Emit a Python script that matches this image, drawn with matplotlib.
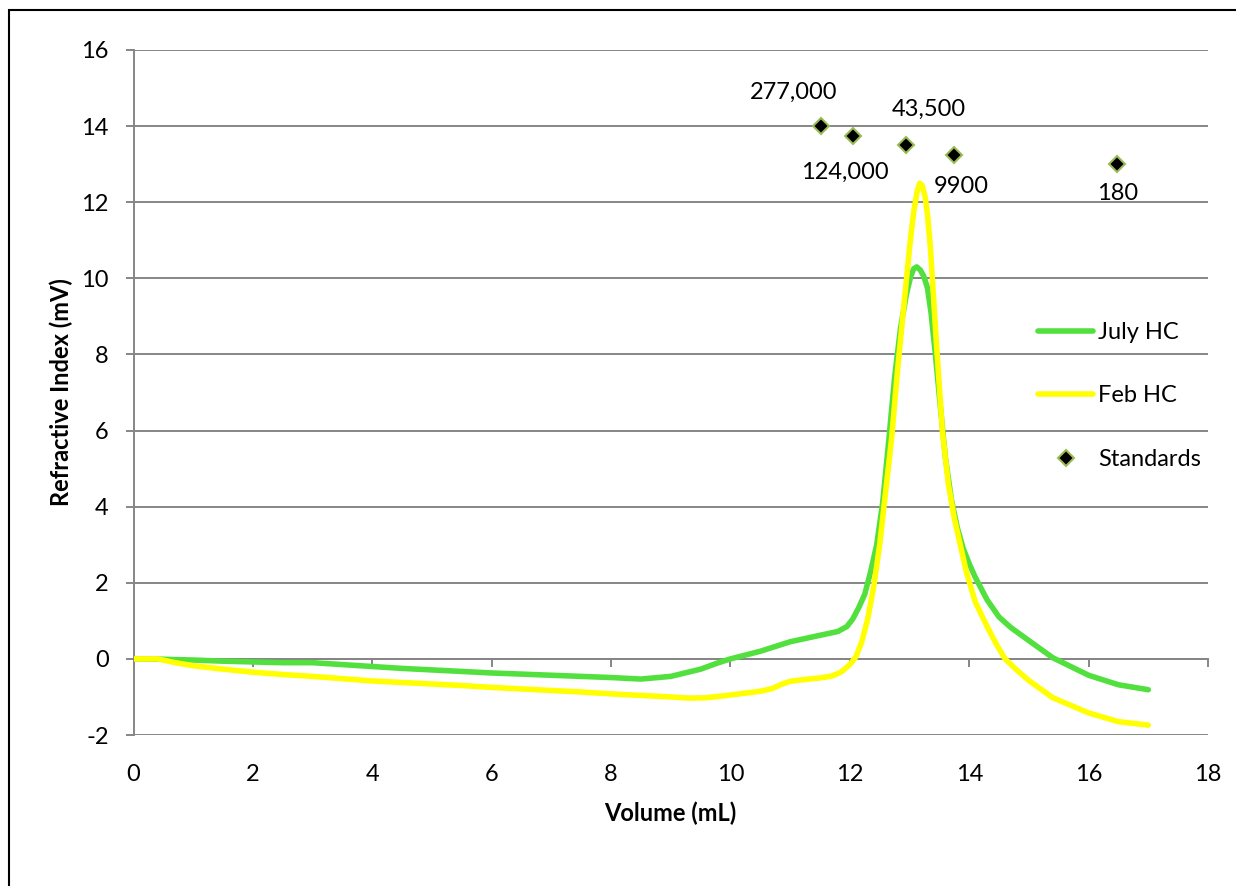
import matplotlib
matplotlib.use("Agg")
import matplotlib.pyplot as plt
from matplotlib.patches import Rectangle
from matplotlib.lines import Line2D

plt.rcParams['font.family'] = ['Lato', 'DejaVu Sans']
plt.rcParams['axes.unicode_minus'] = False

# --- data -------------------------------------------------------------
july_vol = [0, 0.5, 1, 1.5, 2, 2.5, 3, 3.5, 4, 4.5, 5, 5.5, 6, 6.5, 7, 7.5,
            8, 8.5, 9, 9.5, 9.8, 10, 10.5, 11, 11.5, 11.8, 11.95, 12.05,
            12.15, 12.25, 12.35, 12.45, 12.55, 12.65, 12.75, 12.85, 12.95,
            13.02, 13.07, 13.12, 13.18, 13.24, 13.3, 13.36, 13.43, 13.5,
            13.6, 13.7, 13.8, 13.9, 14.0, 14.1, 14.3, 14.5, 14.7, 14.85, 15.0,
            15.4, 16.0, 16.5, 17.0]
july_ri = [0, -0.01, -0.03, -0.06, -0.08, -0.1, -0.1, -0.15, -0.2, -0.25,
           -0.29, -0.33, -0.37, -0.40, -0.43, -0.46, -0.49, -0.53, -0.46,
           -0.27, -0.1, 0.0, 0.2, 0.45, 0.62, 0.72, 0.85, 1.05, 1.35, 1.7,
           2.3, 3.0, 4.1, 5.7, 7.4, 8.7, 9.6, 10.05, 10.25, 10.3, 10.22,
           10.05, 9.75, 9.1, 8.05, 6.9, 5.3, 4.2, 3.45, 2.9, 2.5, 2.15, 1.55,
           1.1, 0.82, 0.65, 0.48, 0.03, -0.43, -0.68, -0.81]

feb_vol = [0, 0.4, 0.7, 1, 1.5, 2, 2.5, 3, 3.5, 4, 4.5, 5, 5.5, 6, 6.5, 7,
           7.5, 8, 8.5, 9, 9.3, 9.6, 10, 10.5, 10.7, 10.85, 11.0, 11.2, 11.5,
           11.7, 11.85, 12.0, 12.1, 12.2, 12.3, 12.4, 12.5, 12.6, 12.7, 12.8,
           12.9, 13.0, 13.07, 13.13, 13.17, 13.21, 13.26, 13.3, 13.35, 13.45,
           13.55, 13.65, 13.75, 13.85, 13.95, 14.1, 14.3, 14.45, 14.6, 14.8,
           15.0, 15.4, 16.0, 16.5, 17.0]
feb_ri = [0, 0, -0.1, -0.18, -0.27, -0.35, -0.41, -0.46, -0.52, -0.58,
          -0.62, -0.66, -0.7, -0.75, -0.79, -0.83, -0.87, -0.92, -0.96, -1.0,
          -1.03, -1.02, -0.95, -0.85, -0.78, -0.67, -0.59, -0.55, -0.5,
          -0.45, -0.35, -0.15, 0.05, 0.45, 1.05, 1.9, 3.0, 4.4, 5.8, 7.6,
          9.2, 10.8, 11.75, 12.3, 12.5, 12.45, 12.15, 11.7, 10.8, 8.3, 6.0,
          4.6, 3.7, 3.0, 2.3, 1.5, 0.85, 0.4, 0.0, -0.3, -0.57, -1.02,
          -1.42, -1.65, -1.74]

std_vol = [11.52, 12.05, 12.94, 13.74, 16.47]
std_ri = [14.0, 13.75, 13.5, 13.25, 13.0]
std_labels = ['277,000', '124,000', '43,500', '9900', '180']

x_ticks = [0, 2, 4, 6, 8, 10, 12, 14, 16, 18]
y_ticks = [-2, 0, 2, 4, 6, 8, 10, 12, 14, 16]

# --- styling ------------------------------------------------------------
GRID = '#868686'
GREEN = '#52E03E'
YELLOW = '#FFFF00'
MARKER_EDGE = '#9BBB59'
FS = 17
LW = 4.0

fig = plt.figure(figsize=(12.36, 8.86), dpi=100)
fig.patch.set_facecolor('white')
ax = fig.add_axes([133.5 / 1236, 1 - 735 / 886, (1208 - 133.5) / 1236,
                   (735 - 50) / 886])

ax.plot(july_vol, july_ri, color=GREEN, lw=LW, solid_capstyle='round',
        solid_joinstyle='round', label='July HC', zorder=3)
ax.plot(feb_vol, feb_ri, color=YELLOW, lw=LW, solid_capstyle='round',
        solid_joinstyle='round', label='Feb HC', zorder=4)
ax.plot(std_vol, std_ri, linestyle='none', marker='D', markersize=8,
        markerfacecolor='black', markeredgecolor=MARKER_EDGE,
        markeredgewidth=1.5, label='Standards', zorder=5)

# molecular-weight labels next to each standard
offsets = [(-28, 34), (-8, -37), (23, 36), (8, -32), (1, -29)]
for xv, yv, txt, (dx, dy) in zip(std_vol, std_ri, std_labels, offsets):
    ax.annotate(txt, (xv, yv), xytext=(dx, dy), textcoords='offset pixels',
                ha='center', va='center', fontsize=FS, color='black')

ax.set_xlim(0, 18)
ax.set_ylim(-2, 16)
ax.set_yticks(y_ticks)
ax.set_xticks(x_ticks)

# horizontal gridlines
ax.grid(axis='y', color=GRID, lw=1.4, zorder=0)
ax.set_axisbelow(True)

for side in ('top', 'right'):
    ax.spines[side].set_visible(False)
ax.spines['left'].set_color(GRID)
ax.spines['left'].set_linewidth(1.4)
ax.spines['bottom'].set_color(GRID)
ax.spines['bottom'].set_linewidth(1.4)
ax.spines['bottom'].set_position(('data', 0))

ax.tick_params(axis='y', direction='out', length=6, width=1.4, color=GRID,
               labelsize=FS, pad=12)
ax.tick_params(axis='x', direction='out', length=6, width=1.4, color=GRID,
               labelbottom=False)

# x tick labels sit below the plot area
sec = ax.secondary_xaxis('bottom')
sec.set_xticks(x_ticks)
sec.spines['bottom'].set_visible(False)
sec.tick_params(axis='x', length=0, labelsize=FS, pad=21)
sec.set_xlabel('Volume (mL)', fontsize=FS, fontweight='bold', labelpad=12)

ax.set_ylabel('Refractive Index (mV)', fontsize=FS, fontweight='bold',
              labelpad=6)

handles = [
    Line2D([], [], color=GREEN, lw=LW, solid_capstyle='round'),
    Line2D([], [], color=YELLOW, lw=LW, solid_capstyle='round'),
    Line2D([], [], linestyle='none', marker='D', markersize=8,
           markerfacecolor='black', markeredgecolor=MARKER_EDGE,
           markeredgewidth=1.5),
]
fig.legend(handles, ['July HC', 'Feb HC', 'Standards'], loc='upper left',
           bbox_to_anchor=(1038 / 1236, 1 - 322 / 886), frameon=False,
           fontsize=FS, handlelength=2.35, handletextpad=0.2,
           labelspacing=1.8, borderpad=0, borderaxespad=0)

# chart-area border
fig.add_artist(Rectangle((9 / 1236, -0.1), 1.2, 1.1 - 9.5 / 886,
                         transform=fig.transFigure, fill=False,
                         edgecolor='black', lw=1.5))

fig.savefig('out.png', dpi=100, facecolor='white')
